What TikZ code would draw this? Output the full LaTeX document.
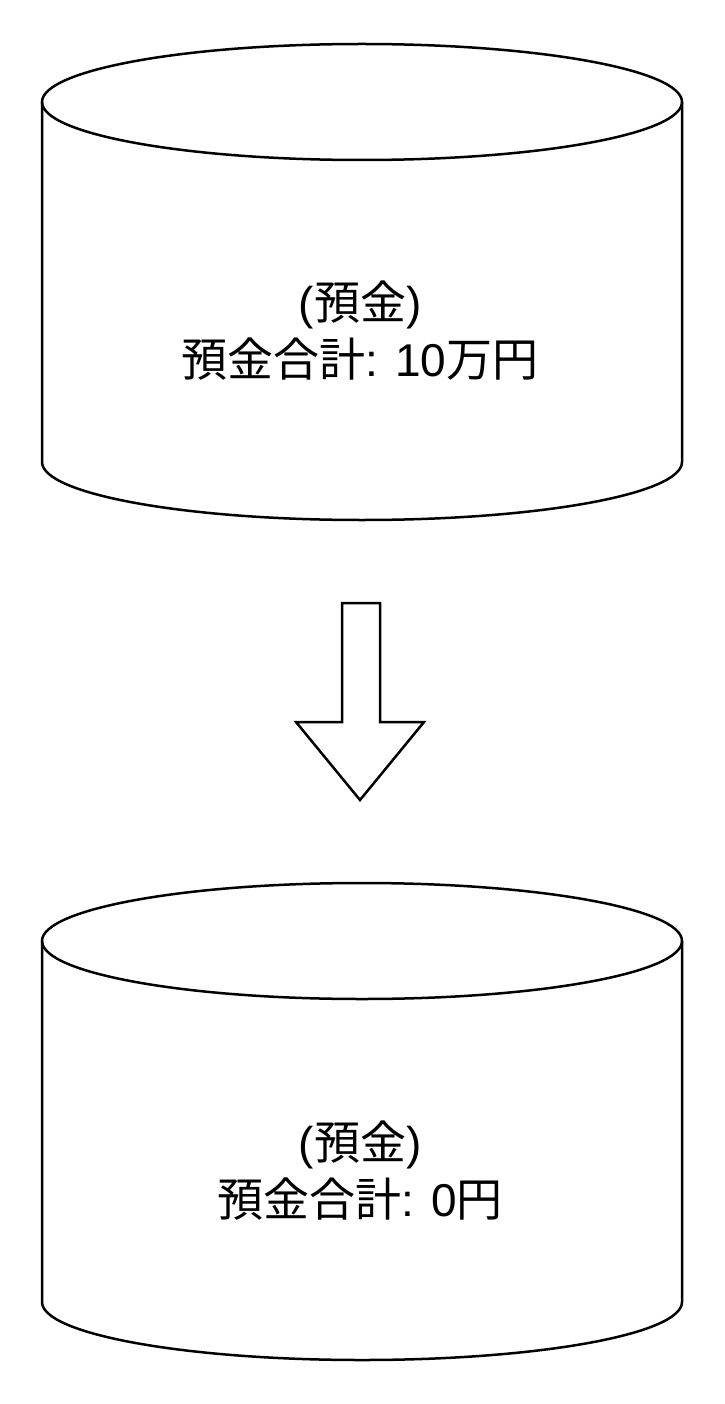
\documentclass[tikz,border=0pt]{standalone}
\usepackage{fontspec}
\setmainfont{Liberation Sans}
\newfontfamily\latfont{Liberation Sans}
\newfontfamily\jpfont{Noto Sans CJK JP}
\newcommand{\jp}[1]{{\jpfont #1}}

\begin{document}
\begin{tikzpicture}[x=1pt,y=-1pt,line width=2.5pt,
tank/.style={draw,fill=white},
caption/.style={align=center,font=\latfont\fontsize{46}{57}\selectfont,inner sep=0pt}]
\useasboundingbox (0,0) rectangle (724,1404);

% upper tank
\draw (42,102) -- (42,462) arc[start angle=180,end angle=0,x radius=320,y radius=58] -- (682,102);
\draw (362,102) ellipse[x radius=320,y radius=58];
\node[caption] (before) at (360,331) {(\jp{預金})\\\jp{預金合計}: 10\jp{万円}};

% block arrow
\draw[tank] (342,603) -- (380,603) -- (380,722) -- (424,722) -- (360,800) -- (296,722) -- (342,722) -- cycle;

% lower tank
\draw (42,941) -- (42,1302) arc[start angle=180,end angle=0,x radius=320,y radius=58] -- (682,941);
\draw (362,941) ellipse[x radius=320,y radius=58];
\node[caption] (after) at (360,1171) {(\jp{預金})\\\jp{預金合計}: 0\jp{円}};
\end{tikzpicture}
\end{document}
